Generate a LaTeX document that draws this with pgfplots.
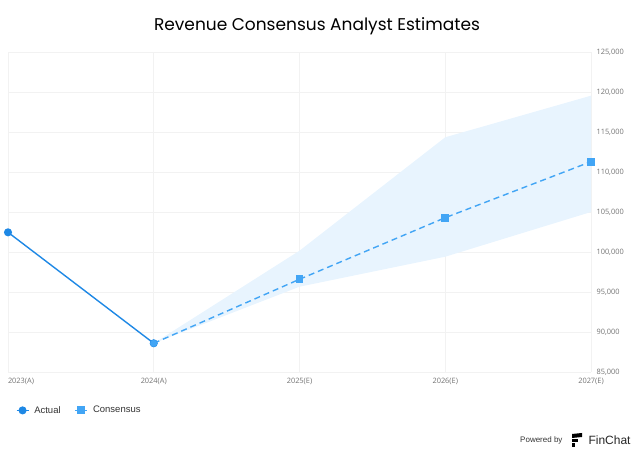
\documentclass[border=0pt]{standalone}
\usepackage{pgfplots}
\pgfplotsset{compat=1.18}
\usepackage{fontspec}
\setmainfont{Liberation Sans}
\newfontfamily\titlefont{Poppins}
\newfontfamily\tickfont{Open Sans}
\definecolor{actualblue}{RGB}{30,136,229}
\definecolor{consblue}{RGB}{66,165,245}
\definecolor{bandblue}{RGB}{232,244,254}
\definecolor{gridgray}{RGB}{242,242,242}
\definecolor{ticktext}{RGB}{115,115,115}
\definecolor{legtext}{RGB}{51,51,51}
\begin{document}
\begin{tikzpicture}[x=1pt,y=1pt]
\path[use as bounding box] (0,0) rectangle (640,454);
\begin{axis}[
  at={(8pt,82pt)}, anchor=south west,
  scale only axis, width=583pt, height=320pt,
  xmin=0, xmax=4, ymin=85000, ymax=125000,
  xtick={0,1,2,3,4},
  xticklabels={{\makebox[0pt][l]{2023(A)}},2024(A),2025(E),2026(E),2027(E)},
  ytick={85000,90000,95000,100000,105000,110000,115000,120000,125000},
  yticklabels={{85,000},{90,000},{95,000},{100,000},{105,000},{110,000},{115,000},{120,000},{125,000}},
  scaled y ticks=false,
  ticklabel style={font=\tickfont\fontsize{7.4}{8}\selectfont, text=ticktext},
  xticklabel style={yshift=-3pt},
  yticklabel style={xshift=2pt},
  yticklabel pos=right,
  grid=major, major grid style={draw=gridgray, line width=0.8pt},
  axis line style={draw=none}, tick style={draw=none},
  legend style={at={(0.008,-0.12)}, anchor=west, draw=none, fill=none,
    legend columns=2, font=\fontsize{9.5}{11}\selectfont\color{legtext},
    /tikz/every odd column/.append style={column sep=3pt},
    /tikz/every even column/.append style={column sep=12pt}},
  legend image code/.code={\draw[mark repeat=2,mark phase=2,#1] plot coordinates {(0pt,0pt) (6pt,0pt) (12pt,0pt)};},
  legend cell align=left,
]
\addplot[fill=bandblue, draw=none, forget plot] coordinates {
  (1,88590) (2,100160) (3,114340) (4,119540)
  (4,105000) (3,99410) (2,95660) (1,88590)} -- cycle;
\addplot[actualblue, line width=1.4pt, mark=*, mark size=3.3pt] coordinates {
  (0,102460) (1,88590)};
\addlegendentry{Actual}
\addplot[consblue, line width=1.4pt, dash pattern=on 6pt off 4pt, mark=square*, mark size=3.2pt, mark options={solid}] coordinates {
  (2,96590) (3,104290) (4,111290)};
\addlegendentry{Consensus}
\addplot[consblue, line width=1.4pt, dash pattern=on 6pt off 4pt, forget plot] coordinates {
  (1,88590) (2,96590)};
\addplot[consblue, mark=*, mark size=3.3pt, only marks, forget plot] coordinates {(1,88590)};
\end{axis}
\node[font=\titlefont\fontsize{17}{20}\selectfont, text=black] at (317,428) {Revenue Consensus Analyst Estimates};
\node[anchor=east, font=\fontsize{8}{9}\selectfont, text=legtext] at (566,14) {Powered by};
\fill[black] (572,20) -- (582,21) -- (582,17) -- (572,16) -- cycle;
\fill[black] (572,15) -- (578,15) -- (578,11.5) -- (572,11.5) -- cycle;
\fill[black] (572,10.5) -- (575,10.5) -- (575,7) -- (572,7) -- cycle;
\node[anchor=west, font=\fontsize{12}{14}\selectfont, text=black!85] at (585,14) {FinChat};
\end{tikzpicture}
\end{document}
